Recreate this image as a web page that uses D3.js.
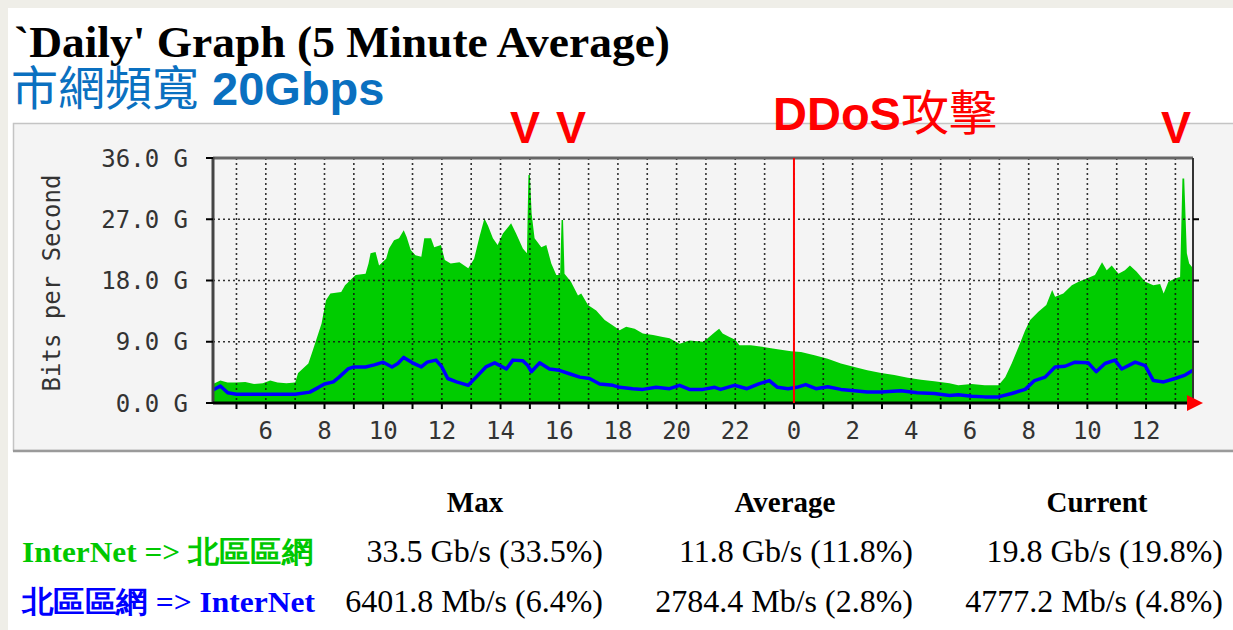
<!DOCTYPE html>
<html>
<head>
<meta charset="utf-8">
<script src="https://cdn.jsdelivr.net/npm/d3@7"></script>
<style>
html,body{margin:0;padding:0;background:#efeee8;}
svg{display:block;}
</style>
</head>
<body>
<svg id="chart" width="1233" height="630"></svg>
<script>
// ---- data (hours since 00:00 of first day; Gbps) ----
const inHours = [4.2,4.45,4.7,5.0,5.3,5.6,5.9,6.15,6.4,6.7,7.0,7.1,7.45,7.6,7.9,8.05,8.2,8.57,8.7,9.06,9.4,9.5,9.57,9.74,9.86,10.1,10.2,10.37,10.54,10.7,10.8,10.94,11.1,11.3,11.4,11.63,11.74,11.97,12.1,12.3,12.6,12.9,13.1,13.28,13.45,13.57,13.74,13.9,14.08,14.36,14.53,14.76,14.9,14.95,15.0,15.06,15.16,15.39,15.56,15.73,15.9,16.03,16.08,16.13,16.18,16.4,16.64,16.75,16.98,17.26,17.55,17.83,18.06,18.28,18.57,18.85,19.2,19.53,19.76,20.1,20.44,20.9,21.06,21.3,21.45,21.57,21.8,22.0,22.14,22.53,23.0,23.44,23.9,24.24,24.7,25.15,25.6,26.06,26.5,26.97,27.42,27.88,28.33,28.78,29.3,29.6,30.06,30.5,30.97,31.2,31.42,31.65,31.88,32.05,32.33,32.6,32.8,32.9,33.18,33.47,33.7,33.98,34.26,34.5,34.66,34.83,35.06,35.28,35.45,35.68,35.97,36.25,36.48,36.6,36.76,36.99,37.16,37.24,37.3,37.39,37.47,37.6];
const inGbps  = [2.8,3.3,3.0,3.0,3.1,2.8,2.9,3.3,3.0,2.9,3.0,4.4,5.8,7.7,11.7,15.1,16.1,16.3,17.3,18.8,19.0,20.5,22.0,22.2,20.2,21.2,22.7,23.9,24.2,25.4,24.4,22.5,21.7,21.5,24.2,24.2,22.9,23.2,21.0,20.5,20.7,19.8,21.2,24.4,27.1,26.1,24.2,23.2,24.9,26.4,24.9,22.7,22.0,33.5,33.5,27.8,24.2,22.9,23.2,20.5,18.8,18.8,26.9,26.9,19.0,17.8,15.8,16.1,14.4,13.6,12.2,11.4,10.7,11.2,10.9,10.2,10.0,9.7,9.5,8.7,9.2,9.0,9.5,10.4,10.9,10.2,9.7,9.3,8.5,8.5,8.2,7.9,7.6,7.5,7.0,6.5,5.8,5.3,4.8,4.4,4.1,3.7,3.4,3.2,2.9,2.6,2.8,2.6,2.6,3.8,5.8,8.2,10.7,12.2,13.4,14.4,16.6,15.6,16.1,17.3,17.8,18.3,18.8,20.7,19.5,20.2,19.0,19.5,20.2,19.3,17.8,17.3,17.5,16.1,17.8,18.3,18.5,33.0,33.0,22.0,20.5,19.8];
const outHours = [4.2,4.45,4.7,5.0,6.0,7.0,7.5,7.8,8.0,8.3,8.5,8.8,9.0,9.4,9.7,10.0,10.3,10.5,10.7,11.0,11.3,11.5,11.8,12.0,12.2,12.5,12.9,13.17,13.5,13.8,14.2,14.42,14.76,14.93,15.05,15.33,15.67,16.0,16.35,16.7,17.03,17.38,17.83,18.06,18.5,18.85,19.3,19.76,20.1,20.44,20.9,21.3,21.5,21.97,22.4,22.8,23.16,23.44,23.8,24.1,24.4,24.75,25.15,25.6,26.06,26.5,26.97,27.65,28.2,28.78,29.3,29.6,30.06,30.5,30.97,31.42,31.88,32.2,32.56,32.9,33.24,33.58,34.03,34.3,34.6,34.94,35.17,35.63,35.97,36.25,36.6,36.99,37.33,37.6];
const outGbps  = [1.9,2.5,1.5,1.3,1.3,1.3,1.6,2.3,2.8,3.1,3.8,5.0,5.3,5.3,5.6,6.0,5.3,5.8,6.7,5.9,5.3,6.0,6.3,5.3,3.6,3.1,2.6,3.8,5.3,5.9,5.0,6.3,6.2,5.5,4.6,5.9,5.0,4.8,4.3,3.8,3.6,2.8,2.6,2.3,2.1,2.0,2.3,2.1,2.6,2.0,2.0,2.3,2.0,2.6,2.1,2.8,3.3,2.3,2.1,2.3,2.7,2.1,2.4,2.0,1.8,1.6,1.6,1.8,1.5,1.4,1.1,1.2,1.0,0.9,0.9,1.4,2.0,3.3,3.8,5.3,5.4,6.0,5.9,4.6,5.8,6.3,5.0,6.0,5.5,3.3,3.1,3.6,4.1,4.8];
const yTicks = [0,9,18,27,36];
const yTickLabels = ["0.0 G","9.0 G","18.0 G","27.0 G","36.0 G"];
const xHourTicks = [6,8,10,12,14,16,18,20,22,24,26,28,30,32,34,36];
const xTickLabels = ["6","8","10","12","14","16","18","20","22","0","2","4","6","8","10","12"];
const timeDomain = [4.2, 37.6];
const ddosHour = 24;
const markHours = [14.83, 16.4, 37.02];
const legendHeaders = ["Max","Average","Current"];
const seriesNames = ["InterNet => 北區區網","北區區網 => InterNet"];
const inStats = ["33.5 Gb/s (33.5%)","11.8 Gb/s (11.8%)","19.8 Gb/s (19.8%)"];
const outStats = ["6401.8 Mb/s (6.4%)","2784.4 Mb/s (2.8%)","4777.2 Mb/s (4.8%)"];

const svg = d3.select("#chart");
const W = 1233, H = 630;

// page background
svg.append("rect").attr("x",0).attr("y",0).attr("width",W).attr("height",H).attr("fill","#efeee8");
svg.append("rect").attr("x",8).attr("y",8).attr("width",W-8).attr("height",H-8).attr("fill","#ffffff");

// titles
svg.append("text").attr("x",14).attr("y",57)
  .attr("font-family","'Liberation Serif','Times New Roman',serif").attr("font-weight","bold")
  .attr("font-size",45).attr("textLength",656).attr("lengthAdjust","spacingAndGlyphs")
  .attr("fill","#000").text("`Daily' Graph (5 Minute Average)");
const t2 = svg.append("text").attr("x",11).attr("y",105).attr("fill","#0a70c0");
t2.append("tspan").attr("font-family","'Noto Sans CJK TC',sans-serif").attr("font-size",47).attr("font-weight",400).text("市網頻寬");
t2.append("tspan").attr("font-family","'Liberation Sans',Arial,sans-serif").attr("font-size",47).attr("font-weight","bold").text(" 20Gbps");

// chart panel
svg.append("rect").attr("x",13.5).attr("y",123.5).attr("width",W).attr("height",327)
  .attr("fill","#f4f4f4").attr("stroke","#c4c4c4").attr("stroke-width",1.5);
svg.append("line").attr("x1",13).attr("x2",W).attr("y1",451).attr("y2",451).attr("stroke","#9a9a9a").attr("stroke-width",2.5);

const x = d3.scaleLinear().domain(timeDomain).range([213,1193]);
const y = d3.scaleLinear().domain([0,36]).range([403,158]);

// annotations
const ann = svg.append("g").attr("fill","#ff0000").attr("font-family","'Liberation Sans',Arial,sans-serif").attr("font-weight","bold").attr("font-size",45);
markHours.forEach(h=>{
  ann.append("text").attr("x", x(h)).attr("y",143).attr("text-anchor","middle").text("V");
});
const dd = ann.append("text").attr("x",773).attr("y",130).attr("font-size",47);
dd.append("tspan").text("DDoS");
dd.append("tspan").attr("font-family","'Noto Sans CJK TC',sans-serif").attr("font-weight",400).attr("font-size",48).text("攻擊");

// green area
const area = d3.area().x((d,i)=>x(inHours[i])).y0(y(0)).y1((d,i)=>y(d)).curve(d3.curveLinear);
svg.append("path").datum(inGbps).attr("d",area).attr("fill","#00cc00");

// grid
const grid = svg.append("g").attr("stroke","#111").attr("stroke-width",1.6).attr("stroke-dasharray","2,3").attr("opacity",0.85);
d3.range(5,38).forEach(h=>{
  grid.append("line").attr("x1",x(h)).attr("x2",x(h)).attr("y1",y(36)).attr("y2",y(0));
});
[9,18,27].forEach(v=>{
  grid.append("line").attr("x1",x(timeDomain[0])).attr("x2",x(timeDomain[1])).attr("y1",y(v)).attr("y2",y(v));
});

// blue line
const line = d3.line().x((d,i)=>x(outHours[i])).y(d=>y(d)).curve(d3.curveLinear);
svg.append("path").datum(outGbps).attr("d",line).attr("fill","none").attr("stroke","#0000ff").attr("stroke-width",3.5).attr("stroke-linejoin","round");

// frame
svg.append("line").attr("x1",x(timeDomain[0])).attr("x2",x(timeDomain[1])).attr("y1",y(36)).attr("y2",y(36)).attr("stroke","#666").attr("stroke-width",3);
svg.append("line").attr("x1",x(timeDomain[1])).attr("x2",x(timeDomain[1])).attr("y1",y(36)).attr("y2",y(0)).attr("stroke","#333").attr("stroke-width",2);
svg.append("line").attr("x1",x(timeDomain[0])).attr("x2",x(timeDomain[0])).attr("y1",y(36)-1).attr("y2",y(0)).attr("stroke","#444").attr("stroke-width",3);
svg.append("line").attr("x1",x(timeDomain[0])).attr("x2",x(timeDomain[1])).attr("y1",y(0)).attr("y2",y(0)).attr("stroke","#000").attr("stroke-width",3);

// ticks
const ticks = svg.append("g").attr("stroke","#000").attr("stroke-width",2);
d3.range(5,38).forEach(h=>{
  ticks.append("line").attr("x1",x(h)).attr("x2",x(h)).attr("y1",y(0)).attr("y2",y(0)+6);
});
yTicks.forEach(v=>{
  ticks.append("line").attr("x1",x(timeDomain[0])-7).attr("x2",x(timeDomain[0])).attr("y1",y(v)).attr("y2",y(v));
  if (v>0 && v<36) ticks.append("line").attr("x1",x(timeDomain[1])).attr("x2",x(timeDomain[1])+6).attr("y1",y(v)).attr("y2",y(v));
});

// DDoS red line
svg.append("line").attr("x1",x(ddosHour)).attr("x2",x(ddosHour)).attr("y1",y(36)).attr("y2",y(0)).attr("stroke","#ff0000").attr("stroke-width",2);

// arrow
const ax = x(timeDomain[1]), ay = y(0);
svg.append("path").attr("d",`M${ax-6},${ay-8}L${ax+10},${ay}L${ax-6},${ay+8}Z`).attr("fill","#ff0000");

// axis labels
const lab = svg.append("g").attr("font-family","'DejaVu Sans Mono',monospace").attr("font-size",24).attr("fill","#333");
yTicks.forEach((v,i)=>{
  lab.append("text").attr("x",188).attr("y",y(v)).attr("dy","0.36em").attr("text-anchor","end").text(yTickLabels[i]);
});
xHourTicks.forEach((h,i)=>{
  lab.append("text").attr("x",x(h)).attr("y",430).attr("dy","0.36em").attr("text-anchor","middle").text(xTickLabels[i]);
});
lab.append("text").attr("transform","translate(51,283) rotate(-90)").attr("dy","0.36em").attr("text-anchor","middle").text("Bits per Second");

// legend table
const serif = "'Liberation Serif','Times New Roman',serif";
const colCenters = [475,785,1097];
const colRights = [603,913,1223];
legendHeaders.forEach((t,i)=>{
  svg.append("text").attr("x",colCenters[i]).attr("y",512).attr("text-anchor","middle")
    .attr("font-family",serif).attr("font-weight","bold").attr("font-size",29).attr("fill","#000").text(t);
});
const rowY = [562,612];
const rowColors = ["#00c800","#0000ff"];
const labelLengths = [291,293];
seriesNames.forEach((t,i)=>{
  svg.append("text").attr("x",22).attr("y",rowY[i]).attr("font-family",serif).attr("font-weight","bold")
    .attr("font-size",30).attr("textLength",labelLengths[i]).attr("lengthAdjust","spacingAndGlyphs")
    .attr("fill",rowColors[i]).text(t);
});
[inStats,outStats].forEach((row,r)=>{
  row.forEach((t,i)=>{
    svg.append("text").attr("x",colRights[i]).attr("y",rowY[r]).attr("text-anchor","end")
      .attr("font-family",serif).attr("font-size",32).attr("fill","#000").text(t);
  });
});
</script>
</body>
</html>
